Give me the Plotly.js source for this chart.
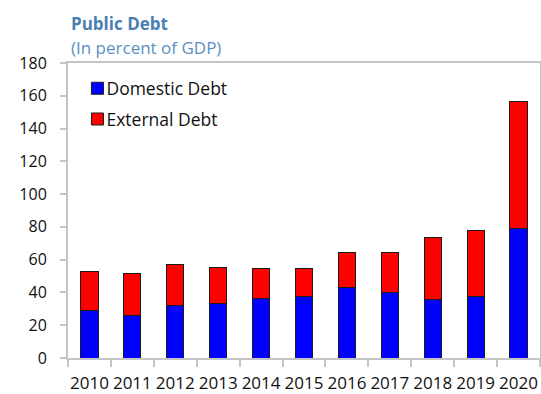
<!DOCTYPE html>
<html>
<head>
<meta charset="utf-8">
<script src="https://cdn.plot.ly/plotly-3.0.1.min.js"></script>
<style>html,body{margin:0;padding:0;background:#fff;}#chart{width:541px;height:394px;}</style>
</head>
<body>
<div id="chart"></div>
<script>
const years = ['2010','2011','2012','2013','2014','2015','2016','2017','2018','2019','2020'];
const domesticDebt = [28.8, 25.7, 32.3, 33.0, 36.1, 37.8, 43.3, 40.2, 35.5, 37.8, 79.0];
const externalDebt = [23.7, 25.9, 24.7, 22.5, 18.8, 16.9, 21.0, 24.1, 38.0, 40.2, 77.3];
const yTicks = [0, 20, 40, 60, 80, 100, 120, 140, 160, 180];

const FONT = 'Open Sans, Noto Sans, sans-serif';
const traces = [
  {type:'bar', name:'Domestic Debt', x:years, y:domesticDebt, width:0.4,
   legendgroup:'a', marker:{color:'#0000ff', line:{color:'#1a1a1a', width:1}}},
  {type:'bar', name:'External Debt', x:years, y:externalDebt, width:0.4,
   legendgroup:'b', marker:{color:'#ff0000', line:{color:'#1a1a1a', width:1}}}
];
const layout = {
  width:541, height:394,
  margin:{l:68, r:1, t:63, b:36, pad:0},
  barmode:'stack',
  paper_bgcolor:'#fff', plot_bgcolor:'#fff',
  font:{family:FONT, size:16, color:'#111'},
  showlegend:true,
  legend:{x:0.02, y:0.975, xanchor:'left', yanchor:'top', traceorder:'grouped',
          tracegroupgap:5, font:{family:FONT, size:17.5, color:'#111'},
          bgcolor:'rgba(0,0,0,0)'},
  xaxis:{type:'category', range:[-0.5,10.5], showline:true, linecolor:'#c4c4c4', linewidth:2,
         mirror:true, ticks:'outside', ticklen:7, tickcolor:'#c4c4c4', tickwidth:2,
         tickson:'boundaries', showgrid:false, tickangle:0,
         tickfont:{family:FONT, size:17, color:'#111'}, ticklabelstandoff:9},
  yaxis:{range:[0,180], tickvals:yTicks, showline:true, linecolor:'#c4c4c4', linewidth:2,
         mirror:true, ticks:'outside', ticklen:6, tickcolor:'#c4c4c4', tickwidth:2,
         showgrid:false, zeroline:false, tickfont:{family:FONT, size:16, color:'#111'},
         ticklabelstandoff:10},
  annotations:[
    {xref:'paper', yref:'paper', x:0, y:1, xshift:1, yshift:26, xanchor:'left', yanchor:'bottom',
     text:'<b>Public Debt</b>', showarrow:false, font:{family:FONT, size:17, color:'#4a7fb3'}},
    {xref:'paper', yref:'paper', x:0, y:1, xshift:1, yshift:2, xanchor:'left', yanchor:'bottom',
     text:'(In percent of GDP)', showarrow:false, font:{family:FONT, size:17, color:'#5b8fc4'}}
  ]
};
Plotly.newPlot('chart', traces, layout, {displayModeBar:false, staticPlot:true}).then(function(gd){
  // tighten the gap between legend swatch and label, as in the reference
  gd.querySelectorAll('.legend .legendtext').forEach(function(t){
    t.setAttribute('x', parseFloat(t.getAttribute('x')) - 11);
  });
});
</script>
</body>
</html>
